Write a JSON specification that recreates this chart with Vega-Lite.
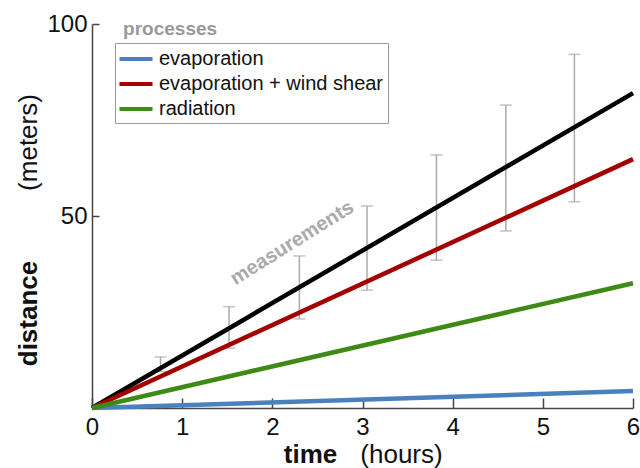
{
  "$schema": "https://vega.github.io/schema/vega-lite/v6.json",
  "autosize": "none",
  "padding": {"left": 92, "top": 24, "right": 7, "bottom": 60},
  "width": 541,
  "height": 384,
  "background": "white",
  "config": {
    "view": {"stroke": null},
    "font": "Liberation Sans",
    "axis": {"grid": false, "labelFont": "Liberation Sans", "titleFont": "Liberation Sans", "labelColor": "#111", "titleColor": "#111", "domainColor": "#444", "tickColor": "#444", "domainWidth": 1.5, "tickWidth": 1.5, "labelFontSize": 24, "titleFontSize": 26},
    "legend": {"labelFont": "Liberation Sans"}
  },
  "datasets": {
    "lines": [
      {"series": "total", "t": 0, "d": 0},
      {"series": "total", "t": 6, "d": 82},
      {"series": "evaporation", "t": 0, "d": 0},
      {"series": "evaporation", "t": 6, "d": 4.4},
      {"series": "evaporation + wind shear", "t": 0, "d": 0},
      {"series": "evaporation + wind shear", "t": 6, "d": 64.8},
      {"series": "radiation", "t": 0, "d": 0},
      {"series": "radiation", "t": 6, "d": 32.5}
    ],
    "meas": [
      {"t": 0.76, "lo": 9.5, "hi": 13.3},
      {"t": 1.52, "lo": 15.6, "hi": 26.4},
      {"t": 2.3, "lo": 23.2, "hi": 39.6},
      {"t": 3.05, "lo": 30.7, "hi": 52.6},
      {"t": 3.82, "lo": 38.5, "hi": 65.9},
      {"t": 4.59, "lo": 46.1, "hi": 78.9},
      {"t": 5.35, "lo": 53.7, "hi": 92.1}
    ],
    "notes1": [{"t": 2.22, "d": 43, "label": "measurements"}],
    "notes2": [{"t": 0.345, "d": 97.1, "label": "processes"}]
  },
  "resolve": {"axis": {"x": "independent", "y": "independent"}},
  "layer": [
    {
      "data": {"name": "meas"},
      "mark": {"type": "errorbar", "ticks": {"size": 12, "color": "#aaaaaa", "thickness": 1.5}, "rule": {"color": "#aaaaaa", "strokeWidth": 1.5}},
      "encoding": {
        "x": {"field": "t", "type": "quantitative", "scale": {"domain": [0, 6], "nice": false},
          "axis": {"orient": "bottom", "values": [0, 1, 2, 3, 4, 5, 6], "format": "d", "tickSize": -10, "labelPadding": 17, "labelFlush": false, "labelOverlap": false,
            "title": "time", "titleFontWeight": "bold", "titleX": 218, "titleY": 54, "titleBaseline": "alphabetic", "titleAlign": "center"}},
        "y": {"field": "lo", "type": "quantitative", "scale": {"domain": [0, 100], "nice": false},
          "axis": {"orient": "left", "values": [50, 100], "tickSize": -7, "labelPadding": 12, "labelFlush": false,
            "title": "distance", "titleFontWeight": "bold", "titleX": -56, "titleY": 289, "titleBaseline": "alphabetic", "titleAlign": "center", "titleAngle": -90}},
        "y2": {"field": "hi"}
      }
    },
    {
      "data": {"name": "lines"},
      "transform": [{"filter": "datum.series === 'total'"}],
      "mark": {"type": "line", "color": "#000000", "strokeWidth": 4.5},
      "encoding": {
        "x": {"field": "t", "type": "quantitative",
          "axis": {"orient": "bottom", "labels": false, "ticks": false, "domain": false, "title": "(hours)", "titleFontWeight": "normal", "titleX": 309, "titleY": 54, "titleBaseline": "alphabetic", "titleAlign": "center"}},
        "y": {"field": "d", "type": "quantitative",
          "axis": {"orient": "left", "labels": false, "ticks": false, "domain": false, "title": "(meters)", "titleFontWeight": "normal", "titleX": -56, "titleY": 118, "titleBaseline": "alphabetic", "titleAlign": "center", "titleAngle": -90}}
      }
    },
    {
      "data": {"name": "lines"},
      "transform": [{"filter": "datum.series !== 'total'"}],
      "mark": {"type": "line", "strokeWidth": 4.5},
      "encoding": {
        "x": {"field": "t", "type": "quantitative", "axis": null},
        "y": {"field": "d", "type": "quantitative", "axis": null},
        "color": {"field": "series", "type": "nominal",
          "scale": {"domain": ["evaporation", "evaporation + wind shear", "radiation"], "range": ["#4a80bd", "#a30000", "#3d8a14"]},
          "legend": {"title": null, "orient": "none", "legendX": 23, "legendY": 19, "strokeColor": "#999999", "fillColor": "white", "padding": 4, "rowPadding": 3,
            "labelFontSize": 20, "labelColor": "#111", "labelOffset": 11, "symbolType": "M-1.65,0H1.65", "symbolSize": 400, "symbolOffset": 5, "symbolStrokeWidth": 4, "labelLimit": 400}}
      }
    },
    {
      "data": {"name": "notes1"},
      "mark": {"type": "text", "angle": 328, "align": "center", "baseline": "middle", "fontSize": 20, "fontWeight": "bold", "color": "#aaaaaa"},
      "encoding": {
        "x": {"field": "t", "type": "quantitative", "axis": null},
        "y": {"field": "d", "type": "quantitative", "axis": null},
        "text": {"field": "label"}
      }
    },
    {
      "data": {"name": "notes2"},
      "mark": {"type": "text", "align": "left", "baseline": "alphabetic", "fontSize": 19, "fontWeight": "bold", "color": "#999999"},
      "encoding": {
        "x": {"field": "t", "type": "quantitative", "axis": null},
        "y": {"field": "d", "type": "quantitative", "axis": null},
        "text": {"field": "label"}
      }
    }
  ]
}
